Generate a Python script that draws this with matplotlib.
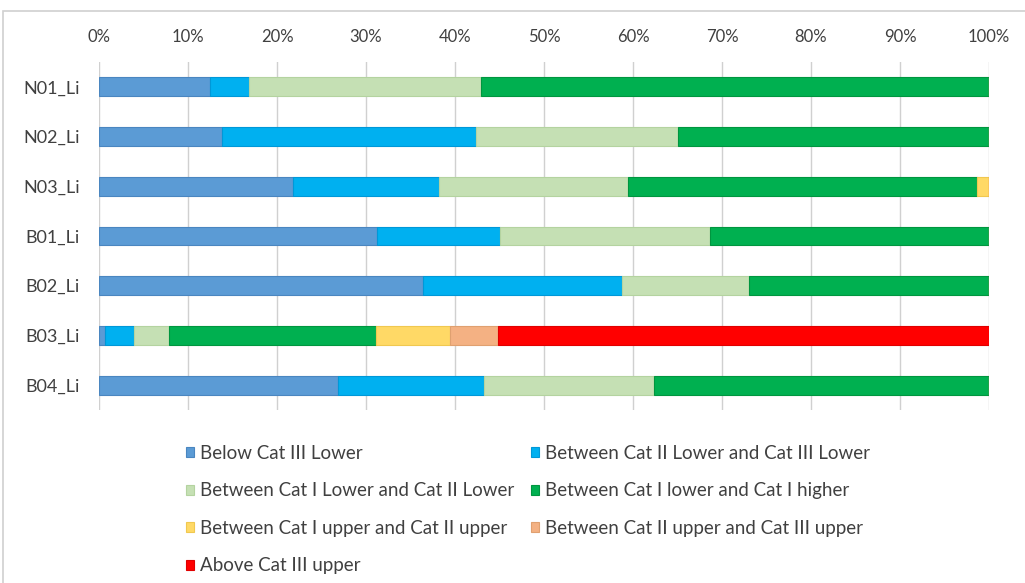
import numpy as np
import matplotlib.pyplot as plt
from matplotlib.patches import Rectangle
from matplotlib.ticker import PercentFormatter

# share of each sample falling in each category band (%)
samples = ["N01_Li", "N02_Li", "N03_Li", "B01_Li", "B02_Li", "B03_Li", "B04_Li"]

below_cat3_lower = [12.5, 13.8, 21.8, 31.2, 36.4, 0.7, 26.9]
cat2_lower_cat3_lower = [4.4, 28.6, 16.4, 13.9, 22.4, 3.2, 16.4]
cat1_lower_cat2_lower = [26.0, 22.6, 21.2, 23.5, 14.2, 4.0, 19.1]
cat1_lower_cat1_higher = [57.1, 35.0, 39.2, 31.4, 27.0, 23.2, 37.6]
cat1_upper_cat2_upper = [0.0, 0.0, 1.4, 0.0, 0.0, 8.3, 0.0]
cat2_upper_cat3_upper = [0.0, 0.0, 0.0, 0.0, 0.0, 5.4, 0.0]
above_cat3_upper = [0.0, 0.0, 0.0, 0.0, 0.0, 55.2, 0.0]

labels = ["Below Cat III Lower",
          "Between Cat II Lower and Cat III Lower",
          "Between Cat I Lower and Cat II Lower",
          "Between Cat I lower and Cat I higher",
          "Between Cat I upper and Cat II upper",
          "Between Cat II upper and Cat III upper",
          "Above Cat III upper"]
series = [below_cat3_lower, cat2_lower_cat3_lower, cat1_lower_cat2_lower,
          cat1_lower_cat1_higher, cat1_upper_cat2_upper, cat2_upper_cat3_upper,
          above_cat3_upper]
colors = ["#5B9BD5", "#00B0F0", "#C5E0B4", "#00B050", "#FFD966", "#F4B183", "#FF0000"]
edges = ["#4A86C0", "#0098D8", "#B4D3A0", "#00963F", "#F0C850", "#E0A070", "#E00000"]

plt.rcParams['font.family'] = ['Lato', 'DejaVu Sans']

fig = plt.figure(figsize=(10.25, 5.83), dpi=100)
ax = fig.add_axes([99 / 1025, 1 - 410 / 583, 890 / 1025, 348 / 583])

# light frame around the chart area
fig.patches.append(Rectangle((3 / 1025, -0.1), 1.2, 1 - 11 / 583 + 0.1,
                             transform=fig.transFigure, fill=False,
                             edgecolor="#D0D0D0", linewidth=1.2))

y = np.arange(len(samples))
left = np.zeros(len(samples))
handles = []
for vals, lab, c, ec in zip(series, labels, colors, edges):
    vals = np.array(vals)
    b = ax.barh(y, vals, left=left, height=0.38, color=c, edgecolor=ec,
                linewidth=0.8, label=lab, zorder=3)
    handles.append(b)
    left += vals

ax.set_xlim(0, 100)
ax.set_ylim(len(samples) - 0.5, -0.5)
ax.set_xticks(np.arange(0, 101, 10))
ax.xaxis.set_major_formatter(PercentFormatter(decimals=0))
ax.xaxis.tick_top()
ax.set_yticks(y)
ax.set_yticklabels(samples)
ax.tick_params(axis='x', length=0, pad=12, labelsize=12, colors="#404040")
ax.tick_params(axis='y', length=0, pad=14, labelsize=13, colors="#404040")
ax.grid(axis='x', color="#D0D0D0", linewidth=1, zorder=0)
for s in ax.spines.values():
    s.set_visible(False)

# row-wise ordering for a two-column legend
order = [0, 2, 4, 6, 1, 3, 5]
fig.legend([handles[i] for i in order], [labels[i] for i in order],
           ncol=2, loc='upper left', bbox_to_anchor=(186 / 1025, 1 - 445 / 583),
           frameon=False, fontsize=13.5, handlelength=0.45, handleheight=0.45,
           handletextpad=0.32, columnspacing=0.85, labelspacing=1.09,
           borderpad=0, borderaxespad=0, labelcolor="#404040")

fig.savefig("out.png", dpi=100)
